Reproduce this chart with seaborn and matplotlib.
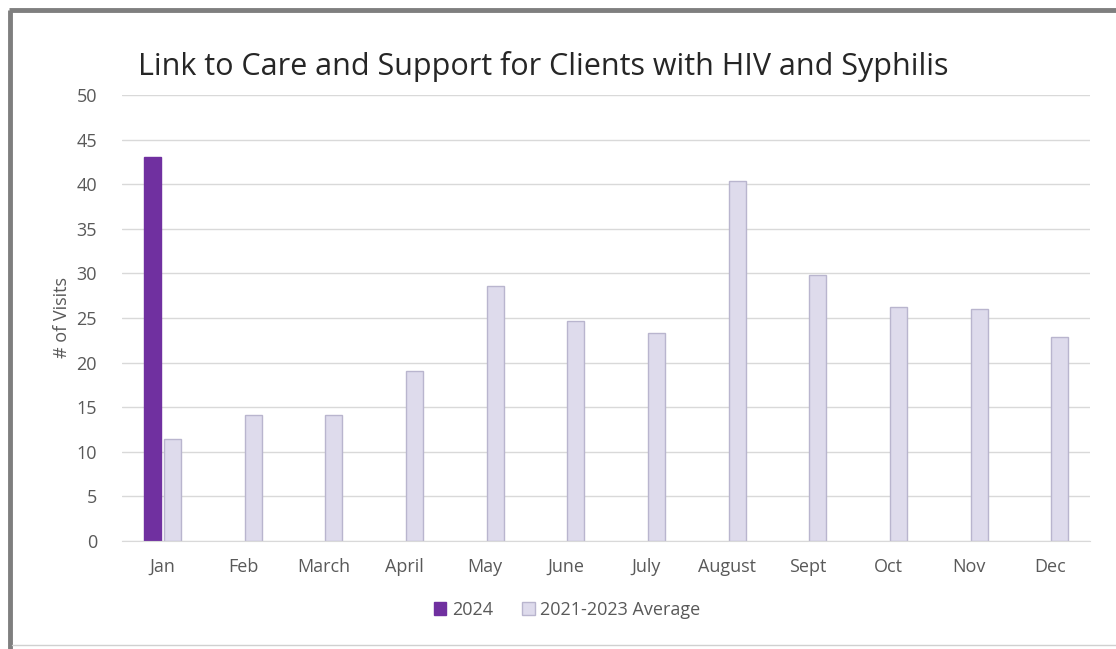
import matplotlib
matplotlib.use("Agg")
import matplotlib.pyplot as plt
import seaborn as sns
import pandas as pd
import numpy as np
from matplotlib.lines import Line2D

# values
months = ['Jan', 'Feb', 'March', 'April', 'May', 'June', 'July',
          'August', 'Sept', 'Oct', 'Nov', 'Dec']
visits_2024 = [43, np.nan, np.nan, np.nan, np.nan, np.nan, np.nan,
               np.nan, np.nan, np.nan, np.nan, np.nan]
visits_avg = [11.4, 14.1, 14.1, 19.1, 28.6, 24.7, 23.3, 40.4, 29.8, 26.2, 26.0, 22.9]
series = ['2024', '2021-2023 Average']

df = pd.DataFrame({
    'month': months * 2,
    'series': [series[0]] * len(months) + [series[1]] * len(months),
    'visits': visits_2024 + visits_avg,
})

sns.set_style('white')
plt.rcParams['font.family'] = ['Open Sans', 'DejaVu Sans']

fig = plt.figure(figsize=(11.16, 6.49), dpi=100)
ax = fig.add_axes([122 / 1116, 1 - 541 / 649, 968 / 1116, 446 / 649])

sns.barplot(data=df, x='month', y='visits', hue='series', order=months,
            hue_order=series, palette=['#7030A0', '#DEDBEC'], saturation=1,
            width=0.5, gap=0.15, ax=ax, legend=False)

# outline the light bars like the original
for bar in ax.containers[1]:
    bar.set_edgecolor('#B9B5CE')
    bar.set_linewidth(1.0)
for bar in ax.containers[0]:
    bar.set_edgecolor('#7030A0')

ax.set_ylim(0, 50)
ax.set_yticks(range(0, 51, 5))
ax.set_xlim(-0.5, len(months) - 0.5)
ax.yaxis.grid(True, color='#D9D9D9', linewidth=1.0)
ax.set_axisbelow(True)
for side in ['top', 'right', 'left']:
    ax.spines[side].set_visible(False)
ax.spines['bottom'].set_color('#D9D9D9')
ax.tick_params(axis='both', length=0, colors='#595959', labelsize=13)
ax.tick_params(axis='x', pad=12)
ax.tick_params(axis='y', pad=18)
ax.set_xlabel('')
ax.set_ylabel('# of Visits', color='#595959', fontsize=13, labelpad=4)

fig.text(138 / 1116, 1 - 67 / 649,
         'Link to Care and Support for Clients with HIV and Syphilis',
         ha='left', va='center', fontsize=22, color='#262626')

handles = [plt.Rectangle((0, 0), 1, 1, facecolor='#7030A0', edgecolor='#7030A0'),
           plt.Rectangle((0, 0), 1, 1, facecolor='#DEDBEC', edgecolor='#B9B5CE')]
fig.legend(handles, series, loc='center', bbox_to_anchor=(567 / 1116, 1 - 610 / 649),
           ncol=2, frameon=False, handlelength=0.7, handleheight=0.7,
           handletextpad=0.3, columnspacing=1.6, fontsize=13, labelcolor='#595959')

# gray frame around the chart area
fig.add_artist(Line2D([10 / 1116, 10 / 1116], [0, 1 - 10 / 649],
                      transform=fig.transFigure, color='#7F7F7F', linewidth=3.5,
                      solid_capstyle='butt'))
fig.add_artist(Line2D([8.5 / 1116, 1], [1 - 10 / 649, 1 - 10 / 649],
                      transform=fig.transFigure, color='#7F7F7F', linewidth=3.5,
                      solid_capstyle='butt'))
fig.add_artist(Line2D([12 / 1116, 1], [1 - 645 / 649, 1 - 645 / 649],
                      transform=fig.transFigure, color='#D0D0D0', linewidth=1.0))

fig.savefig('out.png', dpi=100)
